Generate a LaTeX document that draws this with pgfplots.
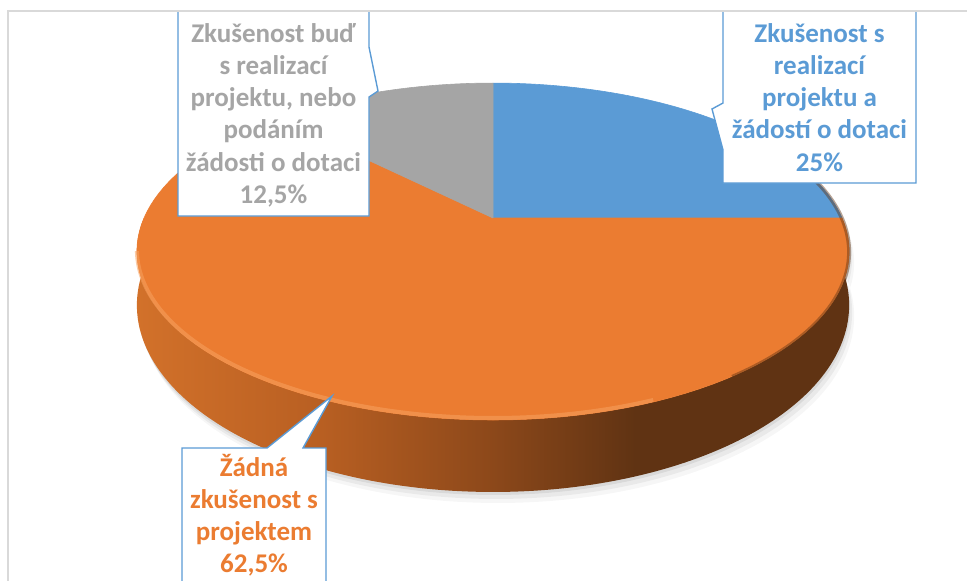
\documentclass[border=0pt]{standalone}
\usepackage{fontspec}
\setmainfont{Carlito}
\usepackage{pgfplots}
\pgfplotsset{compat=1.18}
\usepackage{pgfplotstable}

\definecolor{pieblue}{RGB}{91,155,213}
\definecolor{pieorange}{RGB}{235,124,49}
\definecolor{piegray}{RGB}{165,165,165}
\definecolor{framegray}{RGB}{217,217,217}
\definecolor{sideA}{RGB}{210,113,42}
\definecolor{sideB}{RGB}{184,95,34}
\definecolor{sideC}{RGB}{140,72,26}
\definecolor{sideD}{RGB}{96,51,19}
\definecolor{hilite}{RGB}{247,162,96}

\pgfdeclarehorizontalshading{sideshade}{100bp}{color(0bp)=(sideA); color(25bp)=(sideA); color(38bp)=(sideB); color(50bp)=(sideC); color(60bp)=(sideD); color(100bp)=(sideD)}

\pgfplotstableread{
label value
realizace 25
zadna 62.5
bud 12.5
}\piedata

% slice of the top face: from angle #1 to angle #2, colour #3
\newcommand\pieslice[3]{%
 \addplot[draw=#3, line width=0.3pt, fill=#3, domain=-1:101, samples=103, variable=\s]
 ({px((#1)+((#2)-(#1))*max(0,min(1,\s/100)), (\s>-0.5)*(\s<100.5))},
  {py((#1)+((#2)-(#1))*max(0,min(1,\s/100)), (\s>-0.5)*(\s<100.5))});}

% side band (front of the pie), shifted by #2,#3 pixels
\newcommand\sideband[3]{%
 \addplot[#1, domain=0:2, samples=401, variable=\s]
 ({#2+px(180+180*min(\s,2-\s),1)},
  {#3+218-(161.8+17.6*(\s>1))*sin(180+180*min(\s,2-\s))/den(180+180*min(\s,2-\s)) + 50*(\s>1)});}

\newcommand\lbl[4]{\node[anchor=base, text=#3, font=\fontsize{13.5}{16}\selectfont\bfseries, inner sep=0pt] at (axis cs:#1,#2) {#4};}

\begin{document}
\begin{tikzpicture}
\pgfplotstablegetelem{0}{value}\of\piedata \let\vA\pgfplotsretval
\pgfplotstablegetelem{1}{value}\of\piedata \let\vB\pgfplotsretval
\pgfplotstablegetelem{2}{value}\of\piedata \let\vC\pgfplotsretval
\pgfmathsetmacro\tA{90}
\pgfmathsetmacro\tB{\tA-3.6*\vA}
\pgfmathsetmacro\tC{\tB-3.6*\vB}
\pgfmathsetmacro\tD{\tC-3.6*\vC}
\useasboundingbox (0,0) rectangle (483.5pt,290pt);
\begin{axis}[at={(0,0)}, anchor=south west, scale only axis,
  width=483.5pt, height=290pt,
  xmin=0, xmax=967, ymin=0, ymax=580, y dir=reverse,
  hide axis, clip=true,
  declare function={
    den(\x)=1+0.199*sin(\x);
    px(\x,\y)=493+\y*349*cos(\x)/den(\x);
    py(\x,\y)=218-\y*161.8*sin(\x)/den(\x);
  }]
% soft shadow
\sideband{draw=none, fill=black, opacity=0.035}{5}{11}
\sideband{draw=none, fill=black, opacity=0.05}{3}{7}
\sideband{draw=none, fill=black, opacity=0.07}{1}{3}
% side
\sideband{draw=none, shade, shading=sideshade}{0}{0}
% top face
\pieslice{\tA}{\tB}{pieblue}
\pieslice{\tB}{\tC}{pieorange}
\pieslice{\tC}{\tD}{piegray}
% bevel
\addplot[draw=hilite, line width=2pt, opacity=0.55, domain=192:292, samples=80, variable=\s] ({px(\s,1)}, {py(\s,1)-2});
\addplot[draw=sideD, line width=2pt, opacity=0.45, domain=305:375, samples=60, variable=\s] ({px(\s,1)}, {py(\s,1)+0.5});

% callouts
\draw[pieblue, line width=0.7pt, fill=white] (axis cs:178,11) -- (axis cs:369,11) -- (axis cs:369,47) -- (axis cs:378,91) -- (axis cs:369,97) -- (axis cs:369,216) -- (axis cs:178,216) -- cycle;
\draw[pieblue, line width=0.7pt, fill=white] (axis cs:723,11) -- (axis cs:916,11) -- (axis cs:916,183) -- (axis cs:723,183) -- (axis cs:723,150) -- (axis cs:712,109) -- (axis cs:723,103) -- cycle;
\draw[pieblue, line width=0.7pt, fill=white] (axis cs:182,600) -- (axis cs:182,448) -- (axis cs:267,448) -- (axis cs:332,396) -- (axis cs:303,448) -- (axis cs:326,448) -- (axis cs:326,600) -- cycle;

% frame
\draw[framegray, line width=0.8pt] (axis cs:8,600) -- (axis cs:8,11) -- (axis cs:1000,11);

% labels
\lbl{273.5}{42}{piegray}{Zkušenost buď}
\lbl{273.5}{74}{piegray}{s realizací}
\lbl{273.5}{106}{piegray}{projektu, nebo}
\lbl{273.5}{138}{piegray}{podáním}
\lbl{273.5}{171}{piegray}{žádosti o dotaci}
\lbl{273.5}{203}{piegray}{12,5\%}

\lbl{819.5}{42}{pieblue}{Zkušenost s}
\lbl{819.5}{74}{pieblue}{realizací}
\lbl{819.5}{106}{pieblue}{projektu a}
\lbl{819.5}{138}{pieblue}{žádostí o dotaci}
\lbl{819.5}{171}{pieblue}{25\%}

\lbl{254}{476}{pieorange}{Žádná}
\lbl{254}{508}{pieorange}{zkušenost s}
\lbl{254}{540}{pieorange}{projektem}
\lbl{254}{572}{pieorange}{62,5\%}
\end{axis}
\end{tikzpicture}
\end{document}
